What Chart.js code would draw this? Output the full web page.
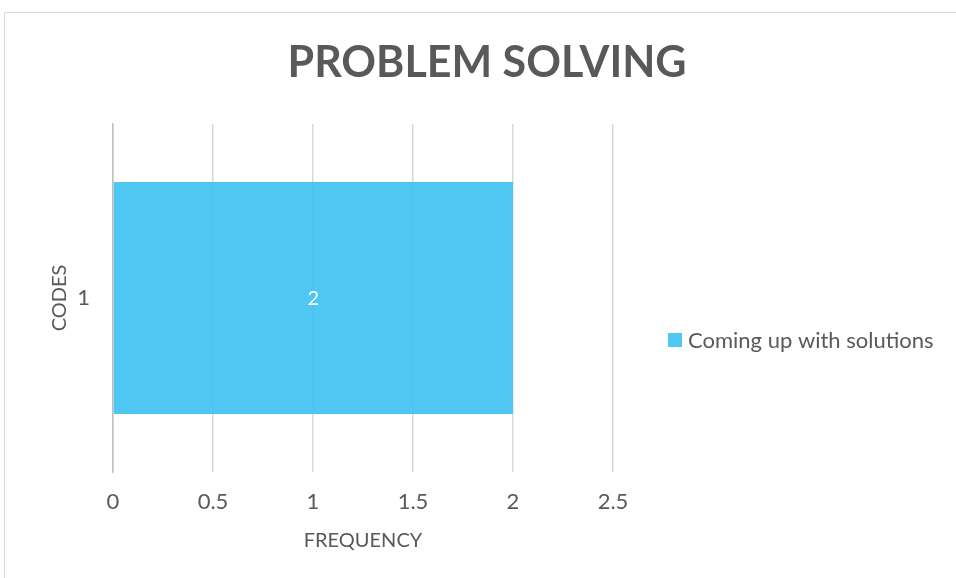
<!DOCTYPE html>
<html>
<head>
<meta charset="utf-8">
<script src="https://cdn.jsdelivr.net/npm/chart.js@4.4.0/dist/chart.umd.min.js"></script>
<style>
  html, body { margin: 0; padding: 0; background: #fff; }
  #frame { position: absolute; left: 4px; top: 12px; width: 980px; height: 600px; border: 1px solid #d9d9d9; }
  #wrap { position: absolute; left: 0; top: 0; width: 956px; height: 578px; }
</style>
</head>
<body>
<div id="frame"></div>
<div id="wrap"><canvas id="chart"></canvas></div>
<script>
const chartTitle = "PROBLEM SOLVING";
const categories = ["1"];
const seriesName = "Coming up with solutions";
const values = [2];
const xTicks = [0, 0.5, 1, 1.5, 2, 2.5];

const textColor = "#595959";
const barColor = "rgba(63, 194, 242, 0.92)";
const legendColor = "#4ec7f3";
const fontFamily = "Lato, 'Open Sans', sans-serif";

// title, legend (right side) and white value labels, drawn Excel style
const excelDecor = {
  id: "excelDecor",
  afterDatasetsDraw(chart) {
    const { ctx, chartArea } = chart;
    ctx.save();

    // value labels in the middle of the bars
    chart.getDatasetMeta(0).data.forEach((bar, i) => {
      ctx.fillStyle = "#ffffff";
      ctx.font = "20px " + fontFamily;
      ctx.textAlign = "center";
      ctx.textBaseline = "middle";
      ctx.fillText(String(values[i]), (bar.x + bar.base) / 2, bar.y + 1);
    });

    // title
    ctx.fillStyle = textColor;
    ctx.font = "bold 43px " + fontFamily;
    ctx.textAlign = "center";
    ctx.textBaseline = "middle";
    ctx.fillText(chartTitle, chart.width / 2 + 9, 63);

    // legend
    const midY = (chartArea.top + chartArea.bottom) / 2 + 42;
    const lx = chartArea.right + 55;
    chart.data.datasets.forEach((ds, i) => {
      const y = midY + i * 28;
      ctx.fillStyle = legendColor;
      ctx.fillRect(lx, y - 7, 14, 14);
      ctx.fillStyle = textColor;
      ctx.font = "22px " + fontFamily;
      ctx.textAlign = "left";
      ctx.fillText(ds.label, lx + 20, y + 1);
    });

    ctx.restore();
  },
};

const ctx = document.getElementById("chart");
new Chart(ctx, {
  type: "bar",
  data: {
    labels: categories,
    datasets: [
      {
        label: seriesName,
        data: values,
        backgroundColor: barColor,
        borderWidth: 0,
        barPercentage: 0.667,
        categoryPercentage: 1,
      },
    ],
  },
  options: {
    indexAxis: "y",
    responsive: true,
    maintainAspectRatio: false,
    animation: false,
    layout: { padding: { left: 0, right: 343, top: 124, bottom: 25 } },
    plugins: {
      title: { display: false },
      legend: { display: false },
      tooltip: { enabled: false },
    },
    scales: {
      x: {
        min: 0,
        max: 2.5,
        afterBuildTicks: (axis) => {
          axis.ticks = xTicks.map((v) => ({ value: v }));
        },
        afterFit: (axis) => {
          axis.height = 81;
        },
        grid: { color: "#d9d9d9", lineWidth: 1.5, drawTicks: false },
        border: { display: false },
        ticks: {
          color: textColor,
          font: { family: fontFamily, size: 22 },
          padding: 17,
          callback: (v) => String(v),
        },
        title: {
          display: true,
          text: "FREQUENCY",
          color: textColor,
          font: { family: fontFamily, size: 20 },
          padding: { top: 15, bottom: 0 },
        },
      },
      y: {
        afterFit: (axis) => {
          axis.width = 113;
        },
        grid: { display: false, drawTicks: false },
        border: { color: "#bfbfbf", width: 1.5 },
        ticks: {
          color: textColor,
          font: { family: fontFamily, size: 22 },
          padding: 23,
        },
        title: {
          display: true,
          text: "CODES",
          color: textColor,
          font: { family: fontFamily, size: 20 },
          padding: { top: 48, bottom: 4 },
        },
      },
    },
  },
  plugins: [excelDecor],
});
</script>
</body>
</html>
